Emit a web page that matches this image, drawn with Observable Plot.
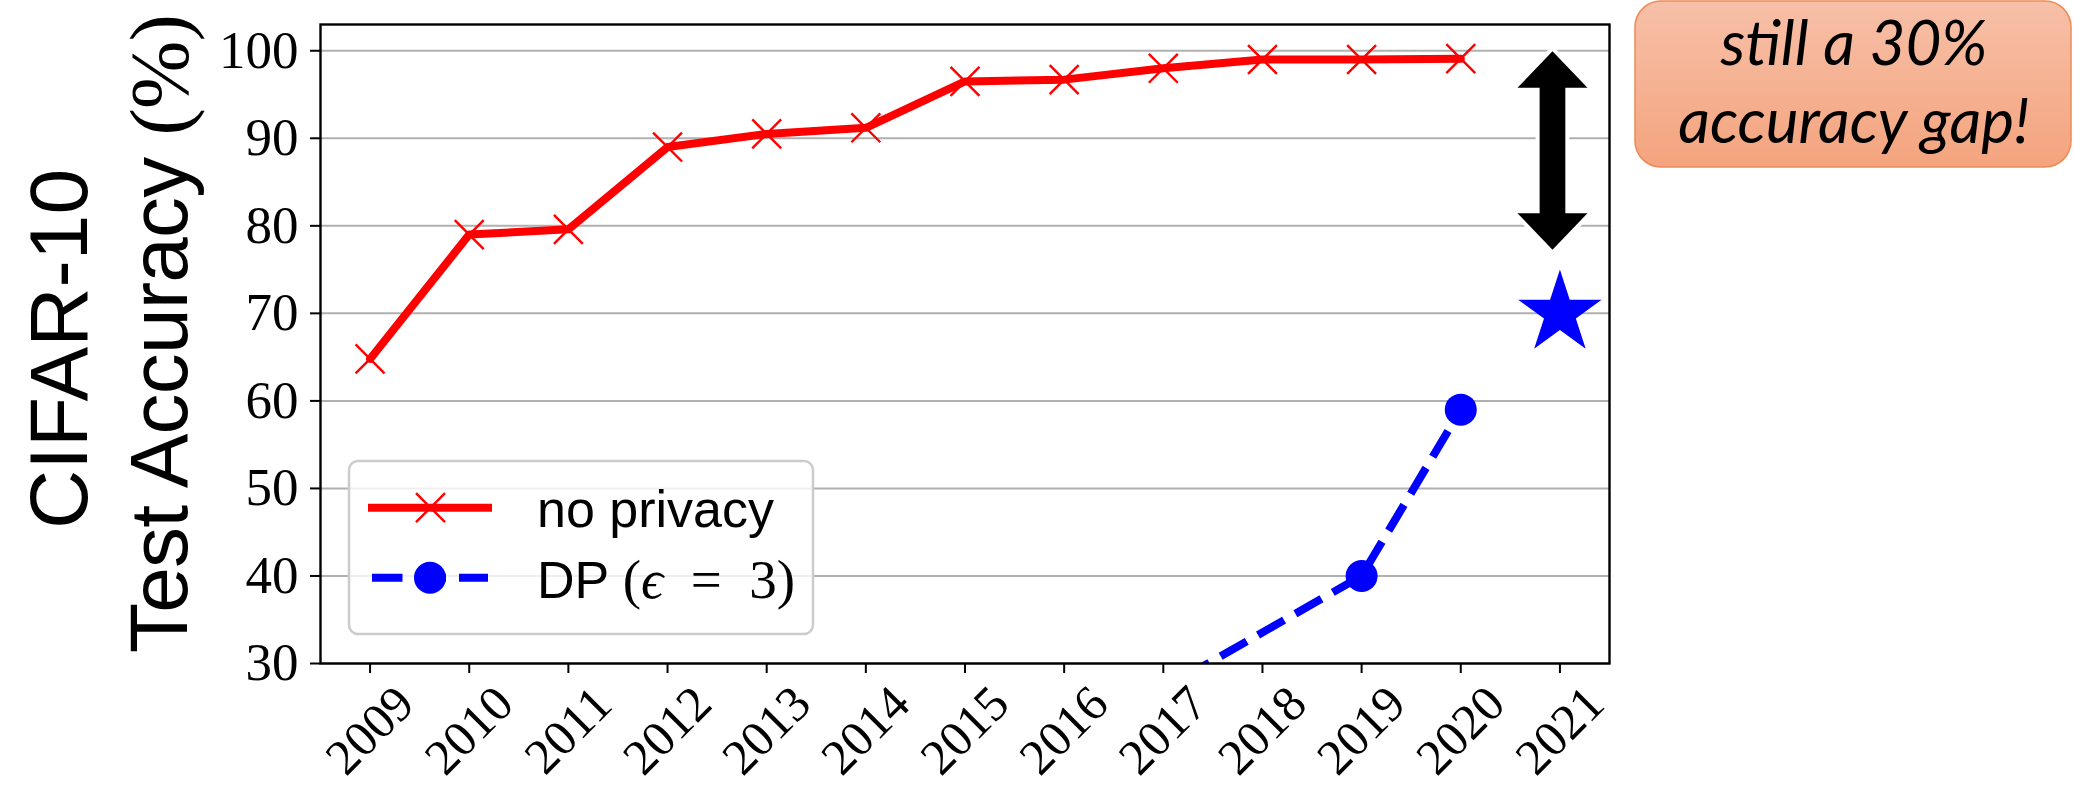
<!DOCTYPE html>
<html><head><meta charset="utf-8">
<script src="https://cdn.jsdelivr.net/npm/d3@7"></script>
<script src="https://cdn.jsdelivr.net/npm/@observablehq/plot@0.6"></script>
<style>
html,body{margin:0;padding:0;background:#fff;}
#wrap{position:relative;width:2074px;height:788px;overflow:hidden;}
</style></head>
<body><div id="wrap"></div>
<script>
// ---- data ----
const years = [2009, 2010, 2011, 2012, 2013, 2014, 2015, 2016, 2017, 2018, 2019, 2020];
const noPrivacy = [64.8, 79.0, 79.6, 89.0, 90.5, 91.2, 96.5, 96.7, 98.0, 99.0, 99.0, 99.1];
const dpYears = [2017, 2019, 2020];
const dpValues = [27.1, 40, 59];
const starYears = [2021];
const starValues = [70];
const gapYear = [2020.93];
const gapTop = [99.9];
const gapBottom = [77.2];
const xTicks = [2009, 2010, 2011, 2012, 2013, 2014, 2015, 2016, 2017, 2018, 2019, 2020, 2021];
const yTicks = [30, 40, 50, 60, 70, 80, 90, 100];
const seriesNames = ["no privacy", "DP"];
const yLabelLines = ["CIFAR-10", "Test Accuracy "];
const noteLines = ["still a 30%", "accuracy gap!"];

const red = years.map((y, i) => ({year: y, acc: noPrivacy[i]}));
const dp = dpYears.map((y, i) => ({year: y, acc: dpValues[i]}));
const star = starYears.map((y, i) => ({year: y, acc: starValues[i]}));

const SERIF = "'Liberation Serif', 'DejaVu Serif', serif";
const SANS = "'Liberation Sans', Arial, sans-serif";

const plot = Plot.plot({
  width: 2074, height: 788,
  marginLeft: 320, marginRight: 465, marginTop: 24, marginBottom: 125,
  style: {fontFamily: SERIF, fontSize: "53px", background: "transparent", overflow: "visible"},
  x: {type: "linear", domain: [2008.5, 2021.5]},
  y: {domain: [30, 103]},
  marks: [
    Plot.gridY(yTicks, {stroke: "#b0b0b0", strokeOpacity: 1, strokeWidth: 2}),
    Plot.line(red, {x: "year", y: "acc", stroke: "#ff0000", strokeWidth: 8, clip: true}),
    Plot.dot(red, {x: "year", y: "acc", symbol: "times", r: 13.2, stroke: "#ff0000", strokeWidth: 2.4, clip: true}),
    Plot.line(dp, {x: "year", y: "acc", stroke: "#0000ff", strokeWidth: 8, strokeDasharray: "30,13", strokeDashoffset: 20, strokeLinecap: "butt", clip: true}),
    Plot.dot(dp, {x: "year", y: "acc", r: 16, fill: "#0000ff", stroke: "none", clip: true}),
    Plot.dot(star, {x: "year", y: "acc", symbol: "star", r: 26.2, fill: "#0000ff", stroke: "none"}),
    Plot.axisY({ticks: yTicks, tickSize: 10, tickPadding: 12, strokeWidth: 2, label: null, tickFormat: d => String(d)}),
    Plot.axisX({ticks: xTicks, tickSize: 10, strokeWidth: 2, label: null, tickFormat: () => ""}),
    Plot.text(xTicks, {x: d => d, text: d => String(d), frameAnchor: "bottom", dy: 67, rotate: -45,
      textAnchor: "middle", lineAnchor: "middle", fontSize: 50}),
    Plot.frame({stroke: "#000", strokeWidth: 2.4})
  ]
});

document.getElementById("wrap").appendChild(plot);
const svg = d3.select(plot);
const sx = plot.scale("x"), sy = plot.scale("y");
const fx = sx.apply ? (v => sx.apply(v)) : d3.scaleLinear(sx.domain, sx.range);
const fy = sy.apply ? (v => sy.apply(v)) : d3.scaleLinear(sy.domain, sy.range);

// ---- double arrow (gap) ----
{
  const cx = fx(gapYear[0]), yT = fy(gapTop[0]), yB = fy(gapBottom[0]);
  const h = 36.7, hw = 35, sw = 12.85;
  const p = [[cx, yT], [cx + hw, yT + h], [cx + sw, yT + h], [cx + sw, yB - h], [cx + hw, yB - h], [cx, yB],
             [cx - hw, yB - h], [cx - sw, yB - h], [cx - sw, yT + h], [cx - hw, yT + h]];
  svg.append("path").attr("d", "M" + p.map(q => q.join(",")).join("L") + "Z")
    .attr("fill", "#000").attr("stroke", "#fff").attr("stroke-width", 8)
    .attr("stroke-linejoin", "miter").attr("paint-order", "stroke");
}

// ---- y label ----
svg.append("text").attr("transform", "translate(87,349) rotate(-90)")
  .attr("text-anchor", "middle").style("font-family", SANS).style("font-size", "82px")
  .text(yLabelLines[0]);
{
  const t = svg.append("text").attr("transform", "translate(187,334) rotate(-90)")
    .attr("text-anchor", "middle").style("font-size", "82px").style("letter-spacing", "-0.8px");
  t.append("tspan").style("font-family", SANS).text(yLabelLines[1]);
  t.append("tspan").style("font-family", SERIF).text("(%)");
}

// ---- legend ----
{
  const g = svg.append("g").attr("text-anchor", "start");
  g.append("rect").attr("x", 349).attr("y", 461).attr("width", 464).attr("height", 173).attr("rx", 9)
    .attr("fill", "#fff").attr("fill-opacity", 0.8).attr("stroke", "#cccccc").attr("stroke-width", 2.5);
  // entry 1
  g.append("line").attr("x1", 368).attr("x2", 492).attr("y1", 507.7).attr("y2", 507.7)
    .attr("stroke", "#ff0000").attr("stroke-width", 8);
  const d = 14.5;
  g.append("path").attr("d", `M${430.5 - d},${507.7 - d}L${430.5 + d},${507.7 + d}M${430.5 - d},${507.7 + d}L${430.5 + d},${507.7 - d}`)
    .attr("stroke", "#ff0000").attr("stroke-width", 2.4).attr("fill", "none");
  g.append("text").attr("x", 537).attr("y", 527.3).attr("text-anchor", "start")
    .style("font-family", SANS).style("font-size", "52px").text(seriesNames[0]);
  // entry 2
  g.append("line").attr("x1", 372).attr("x2", 488).attr("y1", 577.7).attr("y2", 577.7)
    .attr("stroke", "#0000ff").attr("stroke-width", 8).attr("stroke-dasharray", "30.5,13");
  g.append("circle").attr("cx", 430).attr("cy", 577.7).attr("r", 16).attr("fill", "#0000ff");
  const t2 = g.append("text").attr("x", 537).attr("y", 598.3).attr("text-anchor", "start").style("font-size", "52px");
  t2.append("tspan").style("font-family", SANS).text(seriesNames[1] + " ");
  t2.append("tspan").style("font-family", SERIF).style("font-size", "55px").text("(");
  t2.append("tspan").style("font-family", SERIF).style("font-size", "55px").style("font-style", "italic").text("\u03F5");
  t2.append("tspan").style("font-family", SERIF).style("font-size", "55px").text("\u2002=\u20023)");
}

// ---- annotation box ----
{
  const defs = svg.append("defs");
  const lg = defs.append("linearGradient").attr("id", "noteGrad").attr("x1", 0).attr("x2", 0).attr("y1", 0).attr("y2", 1);
  lg.append("stop").attr("offset", "0%").attr("stop-color", "#f7c0a8");
  lg.append("stop").attr("offset", "100%").attr("stop-color", "#f4a47e");
  svg.append("rect").attr("x", 1635).attr("y", 1).attr("width", 436).attr("height", 166).attr("rx", 26)
    .attr("fill", "url(#noteGrad)").attr("stroke", "#ed8a55").attr("stroke-width", 1.5);
  noteLines.forEach((s, i) => {
    svg.append("text").attr("x", 1854).attr("y", i === 0 ? 65 : 143).attr("text-anchor", "middle")
      .style("font-family", "Lato, 'Open Sans', sans-serif").style("font-style", "italic").style("font-size", "62px")
      .attr("fill", "#000").text(s);
  });
}
</script>
</body></html>
